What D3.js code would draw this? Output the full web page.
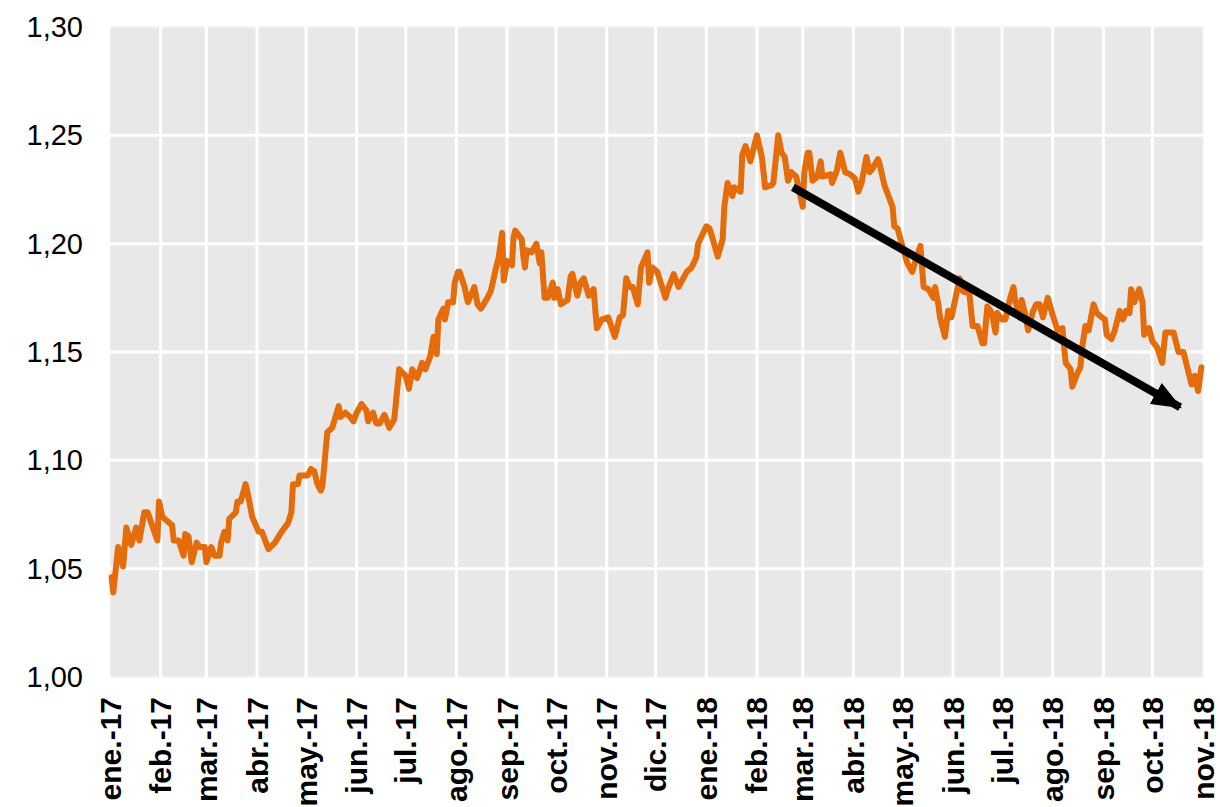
<!DOCTYPE html>
<html>
<head>
<meta charset="utf-8">
<script src="https://cdn.jsdelivr.net/npm/d3@7"></script>
<style>
  body { margin: 0; background: #fff; }
</style>
</head>
<body>
<script>
// --- data ---
const dates = [
  "2017-01-02","2017-01-03","2017-01-06","2017-01-09","2017-01-11","2017-01-14","2017-01-17","2017-01-19","2017-01-22","2017-01-24",
  "2017-01-30","2017-01-31","2017-02-02","2017-02-08","2017-02-09","2017-02-12","2017-02-15","2017-02-16","2017-02-18","2017-02-20",
  "2017-02-23","2017-02-25","2017-02-28","2017-03-01","2017-03-04","2017-03-06","2017-03-09","2017-03-10","2017-03-12","2017-03-14",
  "2017-03-15","2017-03-19","2017-03-20","2017-03-22","2017-03-25","2017-03-26","2017-03-29","2017-04-02","2017-04-04","2017-04-08",
  "2017-04-12","2017-04-16","2017-04-20","2017-04-22","2017-04-23","2017-04-26","2017-04-27","2017-05-02","2017-05-04","2017-05-06",
  "2017-05-08","2017-05-10","2017-05-11","2017-05-14","2017-05-17","2017-05-21","2017-05-22","2017-05-25","2017-05-28","2017-05-30",
  "2017-06-01","2017-06-04","2017-06-07","2017-06-08","2017-06-11","2017-06-13","2017-06-15","2017-06-18","2017-06-21","2017-06-24",
  "2017-06-27","2017-07-01","2017-07-03","2017-07-05","2017-07-08","2017-07-11","2017-07-13","2017-07-16","2017-07-18","2017-07-20",
  "2017-07-21","2017-07-24","2017-07-25","2017-07-27","2017-07-30","2017-07-31","2017-08-02","2017-08-03","2017-08-06","2017-08-08",
  "2017-08-11","2017-08-12","2017-08-14","2017-08-16","2017-08-20","2017-08-22","2017-08-23","2017-08-25","2017-08-27","2017-08-29",
  "2017-08-30","2017-09-01","2017-09-04","2017-09-05","2017-09-06","2017-09-10","2017-09-11","2017-09-12","2017-09-13","2017-09-16",
  "2017-09-19","2017-09-21","2017-09-22","2017-09-24","2017-09-26","2017-09-29","2017-09-30","2017-10-02","2017-10-04","2017-10-08",
  "2017-10-10","2017-10-11","2017-10-14","2017-10-16","2017-10-18","2017-10-21","2017-10-24","2017-10-26","2017-10-29","2017-11-02",
  "2017-11-06","2017-11-09","2017-11-11","2017-11-13","2017-11-15","2017-11-17","2017-11-20","2017-11-22","2017-11-26","2017-11-27",
  "2017-11-29","2017-12-02","2017-12-07","2017-12-08","2017-12-12","2017-12-15","2017-12-20","2017-12-23","2017-12-26","2017-12-27",
  "2018-01-01","2018-01-03","2018-01-05","2018-01-08","2018-01-11","2018-01-12","2018-01-14","2018-01-17","2018-01-18","2018-01-22",
  "2018-01-23","2018-01-25","2018-01-28","2018-02-01","2018-02-04","2018-02-06","2018-02-10","2018-02-11","2018-02-14","2018-02-16",
  "2018-02-18","2018-02-20","2018-02-22","2018-02-25","2018-03-01","2018-03-02","2018-03-04","2018-03-05","2018-03-07","2018-03-10",
  "2018-03-12","2018-03-13","2018-03-18","2018-03-19","2018-03-22","2018-03-24","2018-03-27","2018-03-30","2018-04-02","2018-04-04",
  "2018-04-06","2018-04-09","2018-04-11","2018-04-13","2018-04-16","2018-04-17","2018-04-20","2018-04-22","2018-04-25","2018-04-26",
  "2018-04-28","2018-05-01","2018-05-04","2018-05-07","2018-05-09","2018-05-12","2018-05-14","2018-05-17","2018-05-20","2018-05-21",
  "2018-05-23","2018-05-24","2018-05-27","2018-05-29","2018-05-31","2018-06-02","2018-06-05","2018-06-07","2018-06-11","2018-06-13",
  "2018-06-16","2018-06-19","2018-06-20","2018-06-22","2018-06-24","2018-06-25","2018-06-27","2018-06-28","2018-07-01","2018-07-03",
  "2018-07-06","2018-07-08","2018-07-09","2018-07-11","2018-07-13","2018-07-15","2018-07-17","2018-07-20","2018-07-22","2018-07-24",
  "2018-07-26","2018-07-29","2018-08-01","2018-08-04","2018-08-07","2018-08-08","2018-08-09","2018-08-12","2018-08-13","2018-08-16",
  "2018-08-18","2018-08-19","2018-08-21","2018-08-23","2018-08-26","2018-08-28","2018-08-31","2018-09-02","2018-09-03","2018-09-06",
  "2018-09-08","2018-09-11","2018-09-13","2018-09-15","2018-09-17","2018-09-18","2018-09-20","2018-09-23","2018-09-25","2018-09-26",
  "2018-09-29","2018-10-01","2018-10-04","2018-10-07","2018-10-09","2018-10-14","2018-10-17","2018-10-20","2018-10-23","2018-10-25",
  "2018-10-27","2018-10-29","2018-10-31"
];
const values = [
  1.046,1.039,1.060,1.051,1.069,1.061,1.069,1.063,1.076,1.076,
  1.063,1.081,1.074,1.070,1.063,1.063,1.056,1.066,1.065,1.053,
  1.062,1.060,1.060,1.053,1.060,1.056,1.056,1.062,1.067,1.063,
  1.073,1.076,1.081,1.081,1.089,1.086,1.074,1.067,1.067,1.059,
  1.062,1.067,1.071,1.076,1.089,1.089,1.093,1.093,1.096,1.095,
  1.089,1.086,1.088,1.113,1.115,1.125,1.120,1.122,1.120,1.118,
  1.122,1.126,1.123,1.118,1.122,1.117,1.117,1.121,1.115,1.119,
  1.142,1.139,1.133,1.142,1.138,1.145,1.142,1.148,1.157,1.149,
  1.165,1.170,1.165,1.173,1.173,1.182,1.187,1.187,1.180,1.173,
  1.178,1.180,1.172,1.170,1.175,1.178,1.181,1.188,1.194,1.205,
  1.183,1.192,1.190,1.203,1.206,1.202,1.194,1.189,1.197,1.196,
  1.200,1.191,1.196,1.175,1.175,1.182,1.175,1.179,1.172,1.174,
  1.185,1.186,1.176,1.182,1.184,1.176,1.179,1.161,1.165,1.166,
  1.157,1.166,1.167,1.184,1.180,1.180,1.172,1.189,1.196,1.182,
  1.189,1.187,1.175,1.178,1.186,1.180,1.187,1.189,1.194,1.200,
  1.208,1.207,1.202,1.194,1.202,1.217,1.228,1.222,1.226,1.224,
  1.241,1.245,1.238,1.250,1.240,1.226,1.227,1.228,1.250,1.242,
  1.240,1.229,1.233,1.231,1.217,1.233,1.242,1.242,1.229,1.231,
  1.238,1.231,1.232,1.228,1.234,1.242,1.233,1.232,1.230,1.224,
  1.228,1.240,1.233,1.235,1.239,1.237,1.227,1.223,1.217,1.208,
  1.207,1.199,1.191,1.187,1.192,1.199,1.180,1.179,1.175,1.180,
  1.172,1.166,1.157,1.169,1.166,1.173,1.184,1.178,1.177,1.162,
  1.162,1.154,1.154,1.171,1.169,1.167,1.159,1.168,1.165,1.165,
  1.175,1.180,1.174,1.168,1.174,1.168,1.160,1.169,1.172,1.172,
  1.166,1.175,1.167,1.160,1.161,1.152,1.145,1.142,1.134,1.140,
  1.143,1.152,1.162,1.160,1.172,1.168,1.166,1.165,1.158,1.156,
  1.160,1.169,1.165,1.169,1.168,1.179,1.173,1.179,1.173,1.158,
  1.161,1.155,1.152,1.145,1.159,1.159,1.150,1.150,1.141,1.135,
  1.139,1.132,1.143
];
const monthLabels = ["ene.-17","feb.-17","mar.-17","abr.-17","may.-17","jun.-17","jul.-17","ago.-17","sep.-17","oct.-17","nov.-17","dic.-17",
                     "ene.-18","feb.-18","mar.-18","abr.-18","may.-18","jun.-18","jul.-18","ago.-18","sep.-18","oct.-18","nov.-18"];
const yTicks = [1.00, 1.05, 1.10, 1.15, 1.20, 1.25, 1.30];
// trend arrow, in data terms
const arrowFrom = { date: "2018-02-23", value: 1.226 };
const arrowTo = { date: "2018-10-18", value: 1.1245 };

const parse = d3.timeParse("%Y-%m-%d");
const data = dates.map((d, i) => ({ date: parse(d), value: values[i] }));

const W = 1220, H = 807;
const margin = { top: 27, right: 17, bottom: 130, left: 110 };
const width = W - margin.left - margin.right;
const height = H - margin.top - margin.bottom;

const svg = d3.select("body").append("svg")
  .attr("width", W)
  .attr("height", H);
const g = svg.append("g").attr("transform", `translate(${margin.left},${margin.top})`);

const monthStarts = d3.timeMonths(new Date(2017, 0, 1), new Date(2018, 10, 2));
const x = d3.scaleTime()
  .domain([new Date(2017, 0, 1), new Date(2018, 10, 1)])
  .range([0, width]);
const y = d3.scaleLinear().domain([1.00, 1.30]).range([height, 0]);

// plot background
g.append("rect")
  .attr("x", 0).attr("y", 0)
  .attr("width", width).attr("height", height)
  .attr("fill", "#e8e8e8")
  .attr("stroke", "#f4f4f4")
  .attr("stroke-width", 1);

// gridlines
g.append("g")
  .selectAll("line")
  .data(monthStarts.slice(1, -1))
  .enter().append("line")
  .attr("x1", d => x(d)).attr("x2", d => x(d))
  .attr("y1", 0).attr("y2", height)
  .attr("stroke", "#fff").attr("stroke-width", 3);

g.append("g")
  .selectAll("line")
  .data(yTicks.slice(1, -1))
  .enter().append("line")
  .attr("x1", 0).attr("x2", width)
  .attr("y1", d => y(d)).attr("y2", d => y(d))
  .attr("stroke", "#fff").attr("stroke-width", 3);

// y labels
const fmt = d => d.toFixed(2).replace(".", ",");
g.append("g")
  .selectAll("text")
  .data(yTicks)
  .enter().append("text")
  .attr("x", -27)
  .attr("y", d => y(d))
  .attr("dy", "0.35em")
  .attr("text-anchor", "end")
  .style("font-family", "'Liberation Sans', Arial, sans-serif")
  .style("font-size", "29px")
  .attr("fill", "#000")
  .text(fmt);

// x labels (rotated)
g.append("g")
  .selectAll("text")
  .data(monthStarts)
  .enter().append("text")
  .attr("transform", d => `translate(${x(d)},${height + 20}) rotate(-90)`)
  .attr("dy", "0.35em")
  .attr("text-anchor", "end")
  .style("font-family", "'Liberation Sans', Arial, sans-serif")
  .style("font-weight", "bold")
  .style("font-size", "30px")
  .attr("fill", "#000")
  .text((d, i) => monthLabels[i]);

// series
const line = d3.line().x(d => x(d.date)).y(d => y(d.value));
g.append("path")
  .datum(data)
  .attr("d", line)
  .attr("fill", "none")
  .attr("stroke", "#e46c0a")
  .attr("stroke-width", 6)
  .attr("stroke-linejoin", "round")
  .attr("stroke-linecap", "round");

// arrow
svg.append("defs").append("marker")
  .attr("id", "head")
  .attr("markerUnits", "userSpaceOnUse")
  .attr("viewBox", "0 0 30 24")
  .attr("refX", 28).attr("refY", 12)
  .attr("markerWidth", 30).attr("markerHeight", 24)
  .attr("orient", "auto")
  .append("path")
  .attr("d", "M0,0 L30,12 L0,24 Z")
  .attr("fill", "#000");

g.append("line")
  .attr("x1", x(parse(arrowFrom.date))).attr("y1", y(arrowFrom.value))
  .attr("x2", x(parse(arrowTo.date))).attr("y2", y(arrowTo.value))
  .attr("stroke", "#000")
  .attr("stroke-width", 8)
  .attr("marker-end", "url(#head)");
</script>
</body>
</html>
